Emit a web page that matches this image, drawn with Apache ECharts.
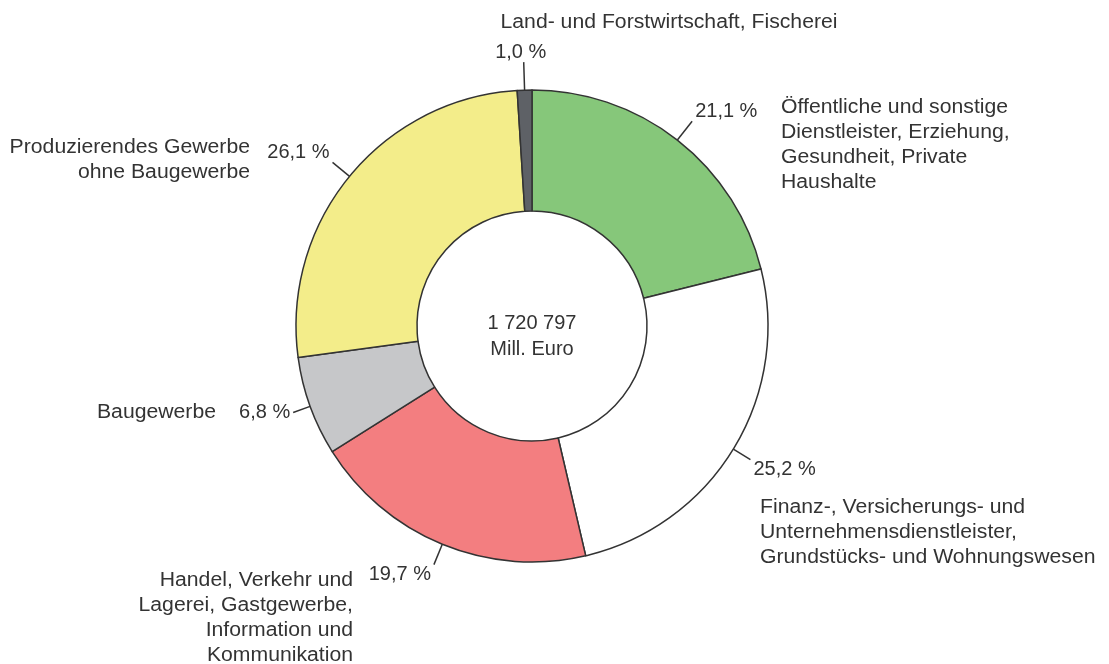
<!DOCTYPE html>
<html>
<head>
<meta charset="utf-8">
<script src="https://cdn.jsdelivr.net/npm/echarts@6/dist/echarts.min.js"></script>
<style>
  html, body { margin: 0; padding: 0; background: #fff; }
  #chart { width: 1109px; height: 664px; }
</style>
</head>
<body>
<div id="chart"></div>
<script>
// Wirtschaftsbereiche, Anteil an der Bruttowertschöpfung in %
const sectors = [
  "Öffentliche und sonstige\nDienstleister, Erziehung,\nGesundheit, Private\nHaushalte",
  "Finanz-, Versicherungs- und\nUnternehmensdienstleister,\nGrundstücks- und Wohnungswesen",
  "Handel, Verkehr und\nLagerei, Gastgewerbe,\nInformation und\nKommunikation",
  "Baugewerbe",
  "Produzierendes Gewerbe\nohne Baugewerbe",
  "Land- und Forstwirtschaft, Fischerei"
];
const shares = [21.1, 25.2, 19.7, 6.8, 26.1, 1.0];
const totalText = ["1 720 797", "Mill. Euro"];

const colors = ["#86c77a", "#ffffff", "#f37e80", "#c6c7c9", "#f3ed8a", "#5e6166"];

// label tweaks (tick length, vertical placement) and name placement
const tickLen = [24, 20, 22, 18, 22, 28];
const pctVAlign = ["bottom", "top", "top", "middle", "bottom", "bottom"];
const namePos = [
  { x: 781, y: 95, align: "left" },
  { x: 760, y: 495, align: "left" },
  { x: 353, y: 568, align: "right" },
  { x: 216, y: 400, align: "right" },
  { x: 250, y: 135, align: "right" },
  { x: 669, y: 10, align: "center" }
];

const font = "Liberation Sans, Arial, sans-serif";
const textColor = "#333";

const fmt = v => v.toFixed(1).replace(".", ",") + " %";

const chart = echarts.init(document.getElementById("chart"));

const option = {
  animation: false,
  backgroundColor: "#fff",
  textStyle: { fontFamily: font },
  series: [
    {
      type: "pie",
      center: [532, 326],
      radius: [115, 236],
      startAngle: 90,
      clockwise: true,
      avoidLabelOverlap: false,
      itemStyle: { borderColor: "#333", borderWidth: 1.5 },
      emphasis: { disabled: true },
      label: {
        show: true,
        position: "outside",
        fontSize: 20,
        fontFamily: font,
        color: textColor,
        distanceToLabelLine: 3,
        formatter: p => fmt(p.value)
      },
      labelLine: {
        show: true,
        length2: 0,
        lineStyle: { color: "#333", width: 1.5 }
      },
      labelLayout: p => {
        const o = { verticalAlign: pctVAlign[p.dataIndex] };
        if (p.dataIndex === 5) o.align = "center";
        return o;
      },
      data: shares.map((v, i) => ({
        name: sectors[i],
        value: v,
        itemStyle: { color: colors[i] },
        labelLine: { length: tickLen[i] }
      }))
    }
  ],
  graphic: sectors.map((s, i) => ({
    type: "text",
    x: namePos[i].x,
    y: namePos[i].y,
    scaleX: 1.06,
    style: {
      text: s,
      fill: textColor,
      font: "20px " + font,
      align: namePos[i].align,
      verticalAlign: "top",
      lineHeight: 25
    }
  })).concat([{
    type: "text",
    x: 532,
    y: 336,
    style: {
      text: totalText.join("\n"),
      fill: textColor,
      font: "20px " + font,
      align: "center",
      verticalAlign: "middle",
      lineHeight: 26
    }
  }])
};

chart.setOption(option);
</script>
</body>
</html>
